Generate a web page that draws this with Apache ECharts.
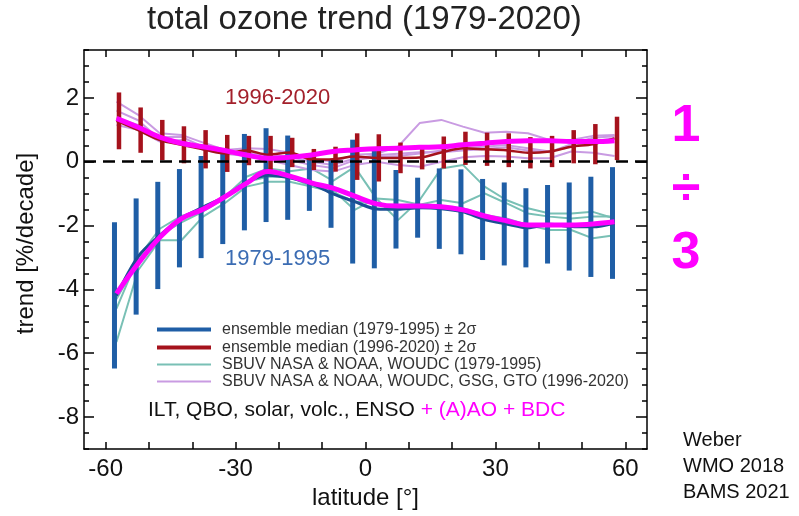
<!DOCTYPE html>
<html>
<head>
<meta charset="utf-8">
<script src="https://cdn.jsdelivr.net/npm/echarts@6/dist/echarts.min.js"></script>
<style>html,body{margin:0;padding:0;background:#fff}#c{width:799px;height:516px}</style>
</head>
<body>
<div id="c"></div>
<script>
// ---- data ----
const lat = [-57.5,-52.5,-47.5,-42.5,-37.5,-32.5,-27.5,-22.5,-17.5,-12.5,-7.5,-2.5,2.5,7.5,12.5,17.5,22.5,27.5,32.5,37.5,42.5,47.5,52.5,57.5];
const xTicks = [-60,-50,-40,-30,-20,-10,0,10,20,30,40,50,60];
const xLabels = [-60,-30,0,30,60];
const yLabels = [-8,-6,-4,-2,0,2];

// ensemble median and 2 sigma, 1979-1995
const medianEarly = [-4.19,-2.97,-2.31,-1.77,-1.42,-1.10,-0.64,-0.42,-0.50,-0.69,-1.01,-1.25,-1.48,-1.49,-1.44,-1.47,-1.57,-1.81,-1.95,-2.07,-1.96,-2.03,-2.04,-1.92];
const sigmaEarly  = [2.29,1.82,1.68,1.54,1.60,1.48,1.51,1.47,1.32,0.85,1.06,1.94,1.86,1.23,0.94,1.26,1.33,1.27,1.30,1.24,1.23,1.38,1.57,1.75];
// ensemble median and 2 sigma, 1996-2020
const medianLate = [1.28,0.99,0.68,0.53,0.39,0.26,0.35,0.22,0.29,0.07,0.08,0.16,0.12,0.12,0.13,0.29,0.42,0.39,0.36,0.28,0.32,0.47,0.55,0.73];
const sigmaLate  = [0.89,0.71,0.63,0.58,0.60,0.58,0.46,0.59,0.46,0.33,0.39,0.73,0.74,0.48,0.37,0.50,0.52,0.52,0.53,0.49,0.49,0.52,0.63,0.68];
// regression with (A)AO + BDC
const magentaEarly = [-4.13,-3.19,-2.37,-1.78,-1.49,-1.10,-0.68,-0.31,-0.45,-0.66,-0.83,-1.08,-1.32,-1.39,-1.39,-1.41,-1.51,-1.70,-1.85,-1.98,-1.98,-1.98,-1.95,-1.88];
const magentaLate  = [1.36,1.08,0.77,0.58,0.47,0.35,0.21,0.11,0.14,0.21,0.32,0.37,0.41,0.42,0.45,0.47,0.53,0.58,0.63,0.66,0.66,0.63,0.63,0.66];
// individual datasets 1979-1995
const tealA = [-5.65,-3.40,-2.46,-2.46,-1.72,-1.30,-0.78,-0.63,-0.63,-0.78,-0.95,-1.25,-1.30,-1.45,-1.46,-1.40,-1.46,-1.67,-1.78,-1.98,-2.14,-2.14,-2.40,-2.30];
const tealB = [-4.30,-3.10,-2.30,-1.90,-1.56,-1.14,-0.63,-0.47,-0.47,-0.78,-0.89,-1.51,-1.15,-1.20,-1.35,-1.20,-1.30,-0.99,-1.30,-1.62,-1.72,-1.78,-1.72,-1.72];
const tealC = [-4.60,-3.00,-2.10,-1.70,-1.50,-1.10,-0.47,-0.21,-0.30,-0.21,-0.60,-0.16,-1.15,-1.83,-1.20,-0.21,-0.10,-0.78,-1.20,-1.46,-1.62,-1.62,-1.57,-1.78];
// individual datasets 1996-2020
const purpleA = [1.88,1.47,0.89,0.84,0.60,0.37,0.42,0.40,0.28,0.10,0.00,0.22,0.25,0.47,1.21,1.31,1.10,0.91,0.94,0.89,0.68,0.68,0.81,0.84];
const purpleB = [1.36,1.15,0.77,0.78,0.47,0.30,0.30,0.20,0.05,-0.10,-0.20,0.05,0.15,0.18,0.26,0.35,0.42,0.47,0.52,0.42,0.32,0.47,0.63,0.74];
const purpleC = [1.15,1.00,0.63,0.68,0.37,0.25,0.18,0.05,-0.10,-0.26,-0.31,-0.10,0.00,-0.10,-0.16,0.00,0.14,0.18,0.16,0.11,0.11,0.32,0.28,0.18];
const purpleD = [1.60,1.30,0.70,0.60,0.50,0.33,0.25,0.25,0.15,0.00,-0.10,0.10,0.20,0.25,0.30,0.30,0.35,0.40,0.45,0.35,0.30,0.55,0.75,0.80];

const nameBlue = 'ensemble median (1979-1995) ± 2σ';
const nameRed = 'ensemble median (1996-2020) ± 2σ';
const nameTeal = 'SBUV NASA & NOAA, WOUDC (1979-1995)';
const namePurple = 'SBUV NASA & NOAA, WOUDC, GSG, GTO (1996-2020)';

// ---- styles ----
const C = {blue:'#1f5ea6', blueLine:'#1b4f92', red:'#a5121c', teal:'#79c0b5', purple:'#c99be2', magenta:'#ff00ff'};
const FONT = 'Liberation Sans, Arial, Helvetica, sans-serif';

const pairs = v => lat.map((x,i)=>[x,v[i]]);
const bars = (m,s) => lat.map((x,i)=>[x, m[i]-s[i], m[i]+s[i]]);

function barSeries(name, data, color, width, offset, z){
  return {
    type:'custom', name, z, data, clip:true,
    itemStyle:{color},
    encode:{x:0, y:[1,2]},
    renderItem(params, api){
      const top = api.coord([api.value(0), api.value(2)]);
      const bot = api.coord([api.value(0), api.value(1)]);
      return {type:'rect', shape:{x:top[0]+offset-width/2, y:top[1], width, height:bot[1]-top[1]}, style:{fill:color}};
    }
  };
}
function thinLine(name, v, color, width, z){
  return {type:'line', name, data:pairs(v), symbol:'none', z, smooth:false,
    itemStyle:{color}, lineStyle:{color, width}, silent:true};
}

const chart = echarts.init(document.getElementById('c'), null, {renderer:'canvas'});
const axisLine = {show:true, onZero:false, lineStyle:{color:'#000', width:1.5}};
const legendBase = {orient:'vertical', left:157, padding:0, icon:'rect', itemWidth:54, selectedMode:false,
  textStyle:{fontFamily:FONT, fontSize:16, color:'#333', padding:[0,0,0,6], lineHeight:17}};

chart.setOption({
  animation:false,
  backgroundColor:'#fff',
  title:{text:'total ozone trend (1979-2020)', left:147, top:3, padding:0,
    textStyle:{fontFamily:FONT, fontSize:33, fontWeight:'normal', color:'#222'}},
  grid:{left:84, right:152, top:50, bottom:67},
  legend:[
    Object.assign({}, legendBase, {top:321, itemHeight:4, data:[nameBlue]}),
    Object.assign({}, legendBase, {top:339, itemHeight:4, data:[nameRed]}),
    Object.assign({}, legendBase, {top:356, itemHeight:2, data:[nameTeal]}),
    Object.assign({}, legendBase, {top:373, itemHeight:2, data:[namePurple]})
  ],
  xAxis:[
    {type:'value', min:-65, max:65, position:'bottom',
     name:'latitude [°]', nameLocation:'middle', nameGap:34,
     nameTextStyle:{fontFamily:FONT, fontSize:24, color:'#111'},
     axisLine, splitLine:{show:false},
     axisTick:{show:true, inside:true, length:7, customValues:xTicks, lineStyle:{color:'#000', width:1.5}},
     axisLabel:{customValues:xLabels, margin:8, fontFamily:FONT, fontSize:24, color:'#111'}},
    {type:'value', min:-65, max:65, position:'top',
     axisLine, splitLine:{show:false},
     axisTick:{show:true, inside:true, length:7, customValues:xTicks, lineStyle:{color:'#000', width:1.5}},
     axisLabel:{show:false}}
  ],
  yAxis:[
    {type:'value', min:-9, max:3.5, position:'left',
     name:'trend [%/decade]', nameLocation:'middle', nameGap:46, nameRotate:90,
     nameTextStyle:{fontFamily:FONT, fontSize:24, color:'#111', padding:[0,0,0,12]},
     axisLine, splitLine:{show:false},
     axisTick:{show:true, inside:true, length:10, customValues:yLabels, lineStyle:{color:'#000', width:1.5}},
     axisLabel:{customValues:yLabels, margin:5, fontFamily:FONT, fontSize:24, color:'#111'}},
    {type:'value', min:-9, max:3.5, interval:0.5, position:'left',
     axisLine:{show:false, onZero:false}, splitLine:{show:false}, axisLabel:{show:false},
     axisTick:{show:true, inside:true, length:5, lineStyle:{color:'#000', width:1.5}}},
    {type:'value', min:-9, max:3.5, position:'right',
     axisLine, splitLine:{show:false}, axisLabel:{show:false},
     axisTick:{show:true, inside:true, length:11, customValues:yLabels, lineStyle:{color:'#000', width:1.5}}},
    {type:'value', min:-9, max:3.5, interval:0.5, position:'right',
     axisLine:{show:false, onZero:false}, splitLine:{show:false}, axisLabel:{show:false},
     axisTick:{show:true, inside:true, length:5, lineStyle:{color:'#000', width:1.5}}}
  ],
  series:[
    thinLine(nameTeal, tealA, C.teal, 2, 2),
    thinLine(nameTeal, tealB, C.teal, 2, 2),
    thinLine(nameTeal, tealC, C.teal, 2, 2),
    thinLine(namePurple, purpleA, C.purple, 2, 2),
    thinLine(namePurple, purpleB, C.purple, 2, 2),
    thinLine(namePurple, purpleC, C.purple, 2, 2),
    thinLine(namePurple, purpleD, C.purple, 2, 2),
    barSeries(nameBlue, bars(medianEarly, sigmaEarly), C.blue, 5, -2, 3),
    barSeries(nameRed, bars(medianLate, sigmaLate), C.red, 4.5, 2.5, 4),
    {type:'line', name:'median early', data:pairs(medianEarly), symbol:'none', z:5, smooth:0.3,
     lineStyle:{color:C.blueLine, width:3}, itemStyle:{color:C.blueLine}, silent:true,
     markLine:{silent:true, symbol:'none', label:{show:false}, z:6,
       lineStyle:{color:'#000', width:2.5, type:[12,7]}, data:[{yAxis:0}]}},
    {type:'line', name:'median late', data:pairs(medianLate), symbol:'none', z:5, smooth:0.3,
     lineStyle:{color:C.red, width:2.5}, itemStyle:{color:C.red}, silent:true},
    {type:'line', name:'AAO BDC early', data:pairs(magentaEarly), symbol:'none', z:7, smooth:0.4,
     lineStyle:{color:C.magenta, width:5}, itemStyle:{color:C.magenta}, silent:true},
    {type:'line', name:'AAO BDC late', data:pairs(magentaLate), symbol:'none', z:7, smooth:0.4,
     lineStyle:{color:C.magenta, width:5}, itemStyle:{color:C.magenta}, silent:true}
  ],
  graphic:[
    {type:'text', left:225, top:87, style:{text:'1996-2020', fontFamily:FONT, fontSize:22, fill:'#a3202b'}},
    {type:'text', left:225, top:248, style:{text:'1979-1995', fontFamily:FONT, fontSize:22, fill:'#3b6cb3'}},
    {type:'text', left:148, top:400, style:{
      text:'{k|ILT, QBO, solar, volc., ENSO }{m|+ (A)AO + BDC}',
      rich:{k:{fontFamily:FONT, fontSize:21, fill:'#111'}, m:{fontFamily:FONT, fontSize:21, fill:'#ff00ff'}}}},
    {type:'text', x:686, y:127, style:{text:'1', fontFamily:FONT, fontSize:52, fontWeight:'bold', fill:'#ff00ff', align:'center', verticalAlign:'middle'}},
    {type:'text', x:686, y:190, style:{text:'÷', fontFamily:FONT, fontSize:52, fontWeight:'bold', fill:'#ff00ff', align:'center', verticalAlign:'middle'}},
    {type:'text', x:686, y:254, style:{text:'3', fontFamily:FONT, fontSize:52, fontWeight:'bold', fill:'#ff00ff', align:'center', verticalAlign:'middle'}},
    {type:'text', left:683, top:430, style:{text:'Weber', fontFamily:FONT, fontSize:20, fill:'#111'}},
    {type:'text', left:683, top:456, style:{text:'WMO 2018', fontFamily:FONT, fontSize:20, fill:'#111'}},
    {type:'text', left:683, top:482, style:{text:'BAMS 2021', fontFamily:FONT, fontSize:20, fill:'#111'}}
  ]
});
</script>
</body>
</html>
